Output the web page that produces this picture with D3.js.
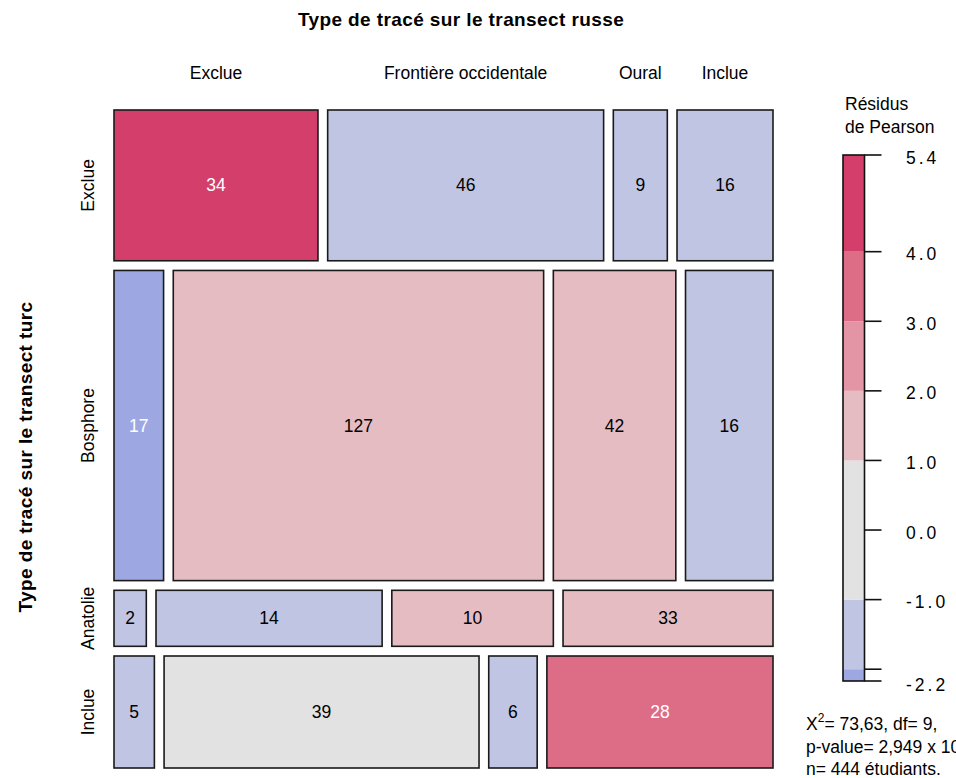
<!DOCTYPE html>
<html>
<head>
<meta charset="utf-8">
<script src="https://cdn.jsdelivr.net/npm/d3@7"></script>
<style>
  body { margin: 0; background: #fff; }
  text { font-family: "Liberation Sans", Arial, Helvetica, sans-serif; fill: #000; }
</style>
</head>
<body>
<svg id="chart" width="956" height="778"></svg>
<script>
// ---------------- data ----------------
const rowCats = ["Exclue", "Bosphore", "Anatolie", "Inclue"];                 // transect turc
const colCats = ["Exclue", "Frontière occidentale", "Oural", "Inclue"];        // transect russe
// frequencies that define the tile sizes (as drawn)
const counts = [
  [34, 46, 9, 16],
  [17, 127, 42, 30],
  [2, 14, 10, 13],
  [5, 39, 6, 28]
];
// numbers printed inside the tiles
const printedLabels = [
  [34, 46, 9, 16],
  [17, 127, 42, 16],
  [2, 14, 10, 33],
  [5, 39, 6, 28]
];
const residualBreaks = [-4, -3, -2, -1, 1, 2, 3, 4];
const residualColors = ["#4A6FE3", "#788CE1", "#9DA8E2", "#C0C5E3", "#E2E2E2",
                        "#E6BCC3", "#E495A5", "#DD6D87", "#D33F6A"];
const legendTicks = [-2, -1, 0, 1, 2, 3, 4];
const titleTop = "Type de tracé sur le transect russe";
const titleLeft = "Type de tracé sur le transect turc";
const legendTitle = ["Résidus", "de Pearson"];

// ---------------- derived ----------------
const nR = rowCats.length, nC = colCats.length;
const rowTot = counts.map(r => d3.sum(r));
const colTot = colCats.map((_, j) => d3.sum(counts, r => r[j]));
const N = d3.sum(rowTot);
const resid = counts.map((r, i) => r.map((o, j) => {
  const e = rowTot[i] * colTot[j] / N;
  return (o - e) / Math.sqrt(e);
}));
const chi2 = d3.sum(resid.flat().map(v => v * v));
const allRes = resid.flat();
const rMin = d3.min(allRes), rMax = d3.max(allRes);
const color = d3.scaleThreshold().domain(residualBreaks).range(residualColors);
const frNum = (v, p) => d3.format("." + p + "f")(v).replace(".", ",");

const statLines = [
  { pre: "X", sup: "2", post: "= " + frNum(chi2, 2) + ", df= " + ((nR - 1) * (nC - 1)) + "," },
  { pre: "p-value= 2,949 x 10", sup: "-12", post: "" },
  { pre: "n= 444 étudiants.", sup: "", post: "" }
];

// ---------------- layout ----------------
const svg = d3.select("#chart");
const X0 = 114, X1 = 773, Y0 = 110, Y1 = 768, GAP = 9.7;
const availH = (Y1 - Y0) - GAP * (nR - 1);
const availW = (X1 - X0) - GAP * (nC - 1);
const yScale = d3.scaleLinear().domain([0, N]).range([0, availH]);
const rowCum = d3.cumsum([0, ...rowTot]);

const cells = [];
counts.forEach((row, i) => {
  const xScale = d3.scaleLinear().domain([0, rowTot[i]]).range([0, availW]);
  const cum = d3.cumsum([0, ...row]);
  const y = Y0 + yScale(rowCum[i]) + i * GAP;
  const h = yScale(rowTot[i]);
  row.forEach((v, j) => {
    cells.push({
      i, j, y, h,
      x: X0 + xScale(cum[j]) + j * GAP,
      w: xScale(v),
      res: resid[i][j],
      label: printedLabels[i][j]
    });
  });
});

const FS = 17.5;

// tiles
const g = svg.append("g");
g.selectAll("rect.tile").data(cells).join("rect")
  .attr("class", "tile")
  .attr("x", d => d.x).attr("y", d => d.y)
  .attr("width", d => d.w).attr("height", d => d.h)
  .attr("fill", d => color(d.res))
  .attr("stroke", "#1a1a1a").attr("stroke-width", 1.6);

g.selectAll("text.val").data(cells).join("text")
  .attr("class", "val")
  .attr("x", d => d.x + d.w / 2).attr("y", d => d.y + d.h / 2)
  .attr("text-anchor", "middle").attr("dominant-baseline", "central")
  .style("font-size", FS + "px")
  .style("fill", d => Math.abs(d.res) >= 2 ? "#ffffff" : "#000000")
  .text(d => d.label);

// column labels (top), centered over the first row's tiles
svg.selectAll("text.colLab").data(cells.filter(d => d.i === 0)).join("text")
  .attr("class", "colLab")
  .attr("x", d => d.x + d.w / 2).attr("y", 73)
  .attr("text-anchor", "middle").attr("dominant-baseline", "central")
  .style("font-size", FS + "px")
  .text(d => colCats[d.j]);

// row labels (left), rotated
svg.selectAll("text.rowLab").data(cells.filter(d => d.j === 0)).join("text")
  .attr("class", "rowLab")
  .attr("transform", d => `translate(88,${d.y + d.h / 2}) rotate(-90)`)
  .attr("text-anchor", "middle").attr("dominant-baseline", "central")
  .style("font-size", FS + "px")
  .text(d => rowCats[d.i]);

// axis titles
svg.append("text")
  .attr("x", 461).attr("y", 19)
  .attr("text-anchor", "middle").attr("dominant-baseline", "central")
  .style("font-size", "19px").style("font-weight", "bold").style("letter-spacing", "0.4px")
  .text(titleTop);
svg.append("text")
  .attr("transform", "translate(25,457) rotate(-90)")
  .attr("text-anchor", "middle").attr("dominant-baseline", "central")
  .style("font-size", "19px").style("font-weight", "bold").style("letter-spacing", "0.4px")
  .text(titleLeft);

// ---------------- legend ----------------
const LX = 843, LW = 21.5;
const lScale = d3.scaleLinear().domain([rMin, rMax]).range([681, 155]);
const edges = [rMin, ...residualBreaks.filter(b => b > rMin && b < rMax), rMax];
const bins = d3.pairs(edges).map(([a, b]) => ({ a, b }));
const lg = svg.append("g");
lg.selectAll("rect.bin").data(bins).join("rect")
  .attr("class", "bin")
  .attr("x", LX).attr("width", LW)
  .attr("y", d => lScale(d.b)).attr("height", d => lScale(d.a) - lScale(d.b))
  .attr("fill", d => color((d.a + d.b) / 2));
lg.append("rect")
  .attr("x", LX).attr("y", lScale(rMax)).attr("width", LW)
  .attr("height", lScale(rMin) - lScale(rMax))
  .attr("fill", "none").attr("stroke", "#111").attr("stroke-width", 1.6);

const tickVals = [rMin, ...legendTicks.filter(t => t > rMin && t < rMax), rMax];
lg.selectAll("line.tk").data(tickVals).join("line")
  .attr("class", "tk")
  .attr("x1", LX + LW).attr("x2", LX + LW + 17)
  .attr("y1", d => lScale(d)).attr("y2", d => lScale(d))
  .attr("stroke", "#111").attr("stroke-width", 1.6);
// skip labels that would collide with the extreme labels
const labelVals = tickVals.filter(t => t === rMin || t === rMax ||
  (Math.abs(lScale(t) - lScale(rMin)) > 20 && Math.abs(lScale(t) - lScale(rMax)) > 20));
lg.selectAll("text.tl").data(labelVals).join("text")
  .attr("class", "tl")
  .attr("x", 906).attr("y", d => lScale(d) + (d === rMin ? 4 : 2.5))
  .attr("dominant-baseline", "central")
  .style("font-size", FS + "px").style("letter-spacing", "3px")
  .text(d => d3.format(".1f")(d).replace("\u2212", "-"));

lg.selectAll("text.lt").data(legendTitle).join("text")
  .attr("class", "lt")
  .attr("x", 845).attr("y", (d, k) => 104 + k * 23)
  .attr("dominant-baseline", "central")
  .style("font-size", FS + "px")
  .text(d => d);

// ---------------- statistics ----------------
const st = svg.selectAll("text.stat").data(statLines).join("text")
  .attr("class", "stat")
  .attr("x", 806).attr("y", (d, k) => 724 + k * 22.5)
  .attr("dominant-baseline", "central")
  .style("font-size", FS + "px");
st.each(function (d) {
  const t = d3.select(this);
  t.append("tspan").text(d.pre);
  if (d.sup) t.append("tspan").attr("dy", -6).style("font-size", "12px").text(d.sup);
  if (d.post) t.append("tspan").attr("dy", 6).text(d.post);
});
</script>
</body>
</html>
